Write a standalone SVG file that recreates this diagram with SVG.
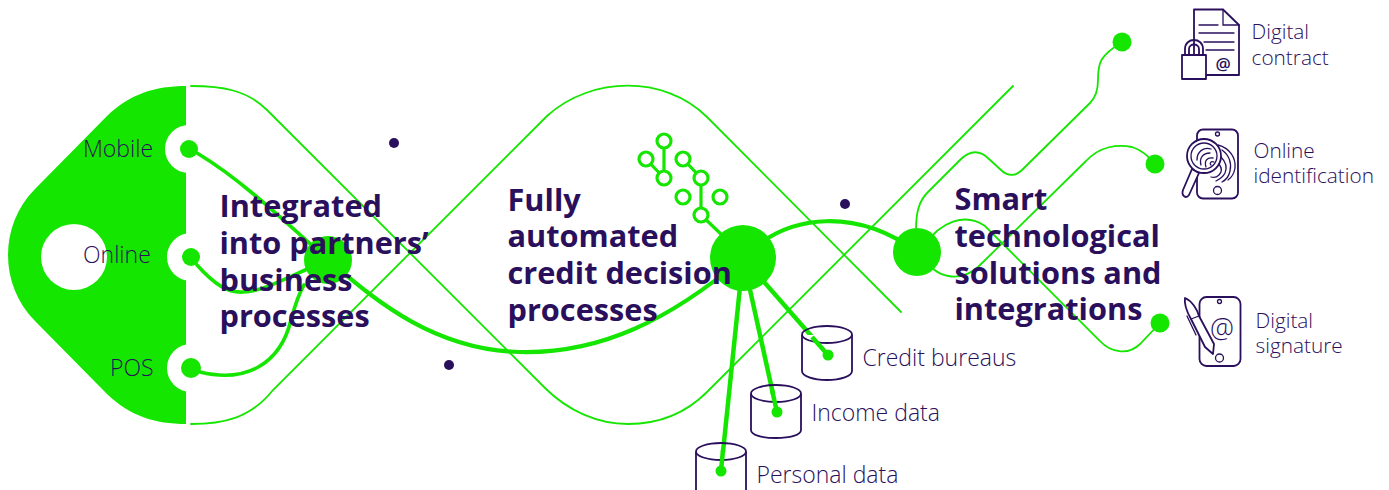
<svg xmlns="http://www.w3.org/2000/svg" width="1389" height="490" viewBox="0 0 1389 490">
<style>
.g{fill:#15e600}
.thin{fill:none;stroke:#15e600;stroke-width:1.8;stroke-linecap:round}
.thick{fill:none;stroke:#15e600;stroke-width:3.6;stroke-linecap:round}
.ln{fill:none;stroke:#15e600;stroke-width:4.5}
.ic{fill:#fff;stroke:#2a0f5c;stroke-width:1.8;stroke-linejoin:round}
.icn{fill:none;stroke:#2a0f5c;stroke-width:1.3;stroke-linecap:round}
.hollow{fill:#fff;stroke:#15e600;stroke-width:3.2}
.t{font-family:"Open Sans","Noto Sans",sans-serif;font-weight:700;font-size:30.700px;fill:#2a0f5c}
.l{font-family:"Open Sans","Noto Sans",sans-serif;font-weight:300;font-size:23px;fill:#2a0f5c}
.s{font-size:20.800px}
.d{fill:#2a0f5c}
</style>
<rect width="1389" height="490" fill="#fff"/>
<g id="body">
<path class="g" d="M186 86C155 86 130 94 107 116L35 189C17 207 8 231 8 255C8 279 17 303 35 321L107 394C130 416 155 424 186 424Z"/>
<circle cx="74" cy="257" r="33" fill="#fff"/>
<circle cx="189" cy="149" r="24" fill="#fff"/>
<circle cx="191" cy="257" r="24" fill="#fff"/>
<circle cx="191" cy="368" r="24" fill="#fff"/>
<rect x="186" y="80" width="5" height="350" fill="#fff"/>
</g>
<g id="connectors">
<path class="thin" d="M191 86C222 86 247 90 267 110L545 388C568 411 598 424 628 424C658 424 685 414 707 392L1013 86"/>
<path class="thin" d="M191 424C222 424 250 419 273 390L547 116C570 95 600 85.700 628 85.700C655 85.700 685 95 707 117L901 312"/>
<path class="thick" d="M197 153C235 176 265 203 328 260"/>
<path class="thick" d="M197 265C215 285 228 293 243 292C265 291 285 278 328 260"/>
<path class="thick" d="M200 372C245 383 280 365 291 320C295 305 298 295 304 285"/>
<path d="M328 260C370 295 430 350 520 352C600 354 670 320 743 258" fill="none" stroke="#15e600" stroke-width="4.200"/>
<path d="M743 258C790 210 860 210 917 252" fill="none" stroke="#15e600" stroke-width="4.200"/>
<path class="thin" d="M916 230C916 212 919 201 928 192L960 160C970 150 980 150 989 159L1001 170C1008 177 1016 176 1022 170L1090 103C1096 97 1098 90 1098 80C1098 62 1100 56 1122 42"/>
<path class="thin" d="M925 245C940 222 965 212 985 226L1100 341C1110 352 1128 356 1140 344L1160 323"/>
<path class="thin" d="M925 258C935 278 960 283 978 267L1086 161C1100 146 1118 144 1132 147C1142 150 1148 156 1155 164"/>
<path class="ln" d="M743 258L721 471"/>
<path class="ln" d="M743 258L777 412"/>
<path class="ln" d="M743 258L828 355"/>
</g>
<g id="cylinders">
<path class="ic" d="M802 335V371C802 376 813 380 827 380C841 380 852 376 852 371V335"/>
<ellipse class="ic" cx="827" cy="334.500" rx="25" ry="8.500" fill-opacity="0"/>
<path class="ic" d="M751 394V430C751 435 762 438 776 438C790 438 801 435 801 430V394"/>
<ellipse class="ic" cx="776" cy="393.500" rx="25" ry="8.500" fill-opacity="0"/>
<path class="ic" d="M696 452V500H746V452"/>
<ellipse class="ic" cx="721" cy="451.500" rx="25" ry="8.500" fill-opacity="0"/>
<path class="ln" d="M812 337L828 355M772 390L777 412M723 450L721 471"/>
<circle class="g" cx="828" cy="355" r="5.500"/>
<circle class="g" cx="777" cy="412" r="5.500"/>
<circle class="g" cx="721" cy="471" r="5.500"/>
</g>
<g id="circuit">
<path class="ln" style="stroke-width:3.200" d="M664 141V178M646 159L664 178M683 159L701 178V215L722 235"/>
<circle class="hollow" cx="664" cy="141" r="7"/>
<circle class="hollow" cx="646" cy="159" r="7"/>
<circle class="hollow" cx="664" cy="178" r="7"/>
<circle class="hollow" cx="683" cy="159" r="7"/>
<circle class="hollow" cx="701" cy="178" r="7"/>
<circle class="hollow" cx="683" cy="197" r="7"/>
<circle class="hollow" cx="720" cy="197" r="7"/>
<circle class="hollow" cx="701" cy="215" r="7"/>
</g>
<g id="dots">
<circle class="d" cx="394" cy="143" r="5"/>
<circle class="d" cx="449" cy="365" r="5"/>
<circle class="d" cx="845" cy="204" r="5"/>
</g>
<g id="node-mobile"><circle class="g" cx="189" cy="149" r="9"/><text class="l" x="83" y="157">Mobile</text></g>
<g id="node-online"><circle class="g" cx="191" cy="257" r="9"/><text class="l" x="83" y="263">Online</text></g>
<g id="node-pos"><circle class="g" cx="191" cy="368" r="10"/><text class="l" x="110" y="376">POS</text></g>
<g id="node-integrated"><circle class="g" cx="328" cy="260" r="24"/>
<text class="t" x="219.500" y="217">Integrated</text><text class="t" x="219.500" y="254">into partners’</text><text class="t" x="219.500" y="291">business</text><text class="t" x="219.500" y="327">processes</text></g>
<g id="node-decision"><circle class="g" cx="743" cy="258" r="33"/>
<text class="t" x="507.500" y="211">Fully</text><text class="t" x="507.500" y="247">automated</text><text class="t" x="507.500" y="284">credit decision</text><text class="t" x="507.500" y="321">processes</text></g>
<g id="node-smart"><circle class="g" cx="917" cy="252" r="24"/>
<text class="t" x="954.500" y="210">Smart</text><text class="t" x="954.500" y="247">technological</text><text class="t" x="954.500" y="284">solutions and</text><text class="t" x="954.500" y="320">integrations</text></g>
<g id="node-credit"><text class="l" x="862.500" y="366">Credit bureaus</text></g>
<g id="node-income"><text class="l" x="811.500" y="421">Income data</text></g>
<g id="node-personal"><text class="l" x="756.500" y="483">Personal data</text></g>
<g id="node-contract">
<circle class="g" cx="1122" cy="42" r="9.500"/>
<path class="ic" d="M1194 55V9.500H1223L1239 25V75H1206"/>
<path class="icn" d="M1223 9.500V25H1239M1199 25H1218M1199 33H1234M1204 42H1234M1206 50H1234"/>
<rect class="ic" x="1182" y="55" width="24" height="24"/>
<path class="icn" style="stroke-width:1.800" d="M1185 55V49C1185 37 1203 37 1203 49V55M1189 55V49C1189 43 1199 43 1199 49V55"/>
<text x="1223" y="70" text-anchor="middle" style="font-family:'Open Sans',sans-serif;font-size:17px;font-weight:600;fill:#2a0f5c">@</text>
<text class="l s" x="1251.500" y="39">Digital</text><text class="l s" x="1251.500" y="65">contract</text>
</g>
<g id="node-identification">
<circle class="g" cx="1155" cy="164" r="9.500"/>
<rect class="ic" x="1197" y="129.500" width="41" height="69" rx="6"/>
<circle class="icn" cx="1217.500" cy="134" r="2"/>
<circle class="icn" cx="1217.500" cy="190.500" r="4"/>
<path class="icn" d="M1218 145C1230 148 1236 158 1235 168C1234 174 1231 178 1228 180M1222 150C1229 155 1232 163 1230 171C1229 176 1226 180 1222 182M1221 157C1226 162 1227 168 1225 173C1223 177 1220 179 1216 181M1219 164C1222 168 1222 172 1219 175C1217 177 1214 178 1211 177"/>
<path class="ic" d="M1192 169L1183 190C1181 196 1186 199 1189 195L1199 173Z"/>
<circle class="ic" cx="1204" cy="156" r="17"/>
<circle class="icn" cx="1204" cy="156" r="13"/>
<path class="icn" d="M1197 160C1197 151 1204 147 1211 149M1201 165C1199 158 1203 153 1210 153M1206 167C1204 161 1207 157 1213 158M1211 165C1209 163 1211 161 1214 162"/>
<text class="l s" x="1253.500" y="158">Online</text><text class="l s" x="1253.500" y="183">identification</text>
</g>
<g id="node-signature">
<circle class="g" cx="1160" cy="323" r="9.500"/>
<rect class="ic" x="1199.500" y="297" width="41" height="69" rx="7"/>
<circle class="icn" cx="1219.500" cy="301.500" r="2"/>
<circle class="icn" cx="1219.500" cy="358" r="4"/>
<path class="ic" d="M1185 298C1192 301 1197 309 1199 316L1214 344L1213 354L1205 347L1191 319C1187 312 1184 304 1185 298Z"/>
<path class="icn" d="M1187 316L1196 335M1191 319L1199 316"/>
<text x="1222" y="338" text-anchor="middle" style="font-family:'Open Sans',sans-serif;font-size:27px;font-weight:300;fill:#2a0f5c">@</text>
<text class="l s" x="1255.500" y="328">Digital</text><text class="l s" x="1255.500" y="353">signature</text>
</g>
</svg>
